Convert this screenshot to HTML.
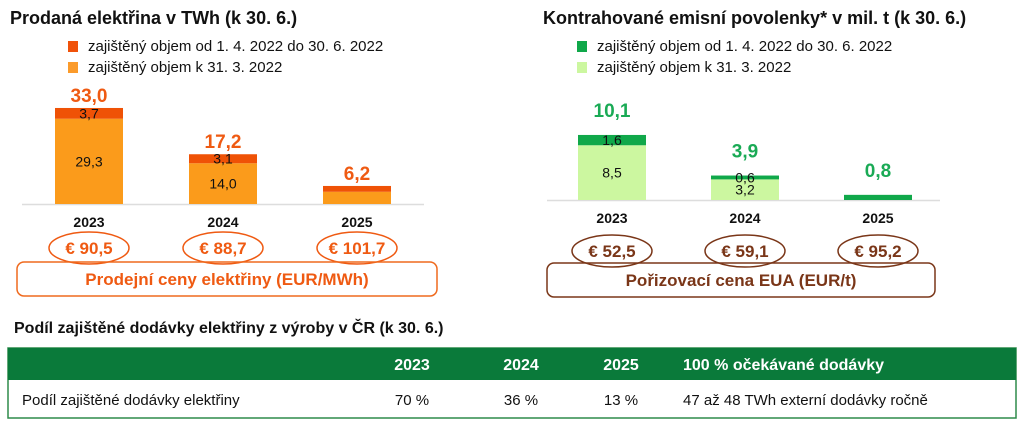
<!DOCTYPE html>
<html><head><meta charset="utf-8"><style>
body{margin:0;background:#fff;width:1024px;height:421px;overflow:hidden;font-family:"Liberation Sans",Arial,sans-serif}
svg text{font-family:"Liberation Sans",Arial,sans-serif}
</style></head><body>
<svg id="s" width="1024" height="421">
<text x="10" y="24" font-size="18" font-weight="bold" fill="#111">Prodaná elektřina v TWh (k 30. 6.)</text>
<text x="543" y="24" font-size="18" font-weight="bold" fill="#111">Kontrahované emisní povolenky* v mil. t (k 30. 6.)</text>
<rect x="68" y="41" width="10" height="11" fill="#f0520a"/>
<text x="88" y="51" font-size="15" fill="#111">zajištěný objem od 1. 4. 2022 do 30. 6. 2022</text>
<rect x="68" y="62" width="10" height="11" fill="#fb9b2b"/>
<text x="88" y="72" font-size="15" fill="#111">zajištěný objem k 31. 3. 2022</text>
<rect x="577" y="41" width="10" height="11" fill="#10a84a"/>
<text x="597" y="51" font-size="15" fill="#111">zajištěný objem od 1. 4. 2022 do 30. 6. 2022</text>
<rect x="577" y="62" width="10" height="11" fill="#ccf7a0"/>
<text x="597" y="72" font-size="15" fill="#111">zajištěný objem k 31. 3. 2022</text>
<g id="g"></g>
<rect x="17" y="262" width="420" height="34" rx="7" fill="none" stroke="#ef6a1e" stroke-width="1.5"/>
<text x="227" y="285" font-size="17" font-weight="bold" fill="#ef5a12" text-anchor="middle">Prodejní ceny elektřiny (EUR/MWh)</text>
<rect x="547" y="263" width="388" height="34" rx="7" fill="none" stroke="#7a3618" stroke-width="1.5"/>
<text x="741" y="286" font-size="17" font-weight="bold" fill="#7a3618" text-anchor="middle">Pořizovací cena EUA (EUR/t)</text>
<text x="14" y="333" font-size="16" font-weight="bold" fill="#111">Podíl zajištěné dodávky elektřiny z výroby v ČR (k 30. 6.)</text>
<rect x="8" y="348" width="1008" height="70" fill="#fff" stroke="#2e8b4a" stroke-width="1.5"/>
<rect x="8" y="348" width="1008" height="32" fill="#0a7a3a"/>
<g font-size="16" font-weight="bold" fill="#fff">
<text x="412" y="370" text-anchor="middle">2023</text><text x="521" y="370" text-anchor="middle">2024</text><text x="621" y="370" text-anchor="middle">2025</text><text x="683" y="370">100 % očekávané dodávky</text></g>
<g font-size="15" fill="#111">
<text x="22" y="405">Podíl zajištěné dodávky elektřiny</text><text x="412" y="405" text-anchor="middle">70 %</text><text x="521" y="405" text-anchor="middle">36 %</text><text x="621" y="405" text-anchor="middle">13 %</text><text x="683" y="405">47 až 48 TWh externí dodávky ročně</text></g>
</svg>
<script>
const years=["2023","2024","2025"];
const elOld=[29.3,14.0,4.2];
const elNew=[3.7,3.1,2.0];
const elTotal=["33,0","17,2","6,2"];
const elOldLbl=["29,3","14,0",""];
const elNewLbl=["3,7","3,1",""];
const elPrice=["€ 90,5","€ 88,7","€ 101,7"];
const euaOld=[8.5,3.2,0];
const euaNew=[1.6,0.6,0.8];
const euaTotal=["10,1","3,9","0,8"];
const euaOldLbl=["8,5","3,2",""];
const euaNewLbl=["1,6","0,6",""];
const euaPrice=["€ 52,5","€ 59,1","€ 95,2"];
const NS="http://www.w3.org/2000/svg",g=document.getElementById('g');
function mk(t,a,txt){const e=document.createElementNS(NS,t);for(const k in a)e.setAttribute(k,a[k]);if(txt!==undefined)e.textContent=txt;g.appendChild(e);return e;}
function chart(c){
 const y=v=>c.base-v*c.k;
 const ln=mk('line',{x1:c.lx1,x2:c.lx2,y1:c.base+0.5,y2:c.base+0.5,stroke:'#ddd','stroke-width':1.5});
 
 
 years.forEach((yr,i)=>{
  const cx=c.x0+i*c.dx, x=cx-34;
  const r1=mk('rect',{x:x,y:y(c.old[i]),width:68,height:c.base-y(c.old[i]),fill:c.cOld});
  
  
  const r2=mk('rect',{x:x,y:y(c.old[i]+c.nw[i]),width:68,height:c.nw[i]*c.k,fill:c.cNew});
  
  
  const top=y(c.old[i]+c.nw[i]);
  const t=mk('text',{x:cx,y:top-c.toff,'font-size':19,'font-weight':'bold',fill:c.cTot,'text-anchor':'middle'},c.tot[i]);
  
  
  if(c.nl[i]){const a=mk('text',{x:cx,y:y(c.old[i]+c.nw[i]/2)+5,'font-size':14,fill:'#111','text-anchor':'middle'},c.nl[i]);
   
   }
  if(c.ol[i]){const b=mk('text',{x:cx,y:y(c.old[i]/2)+5,'font-size':14,fill:'#111','text-anchor':'middle'},c.ol[i]);
   
   }
  const yl=mk('text',{x:cx,y:c.base+23,'font-size':14,'font-weight':'bold',fill:'#111','text-anchor':'middle'},yr);
  
  
  const el=mk('ellipse',{cx:cx,cy:c.ey,rx:40,ry:16,fill:'#fff',stroke:c.cPr,'stroke-width':1.5});
  
  
  const pt=mk('text',{x:cx,y:c.ey+6,'font-size':17,'font-weight':'bold',fill:c.cPr,'text-anchor':'middle'},c.pr[i]);
  
  
 });
}
chart({p:'electricity',base:204,k:2.91,x0:89,dx:134,lx1:22,lx2:424,old:elOld,nw:elNew,tot:elTotal,ol:elOldLbl,nl:elNewLbl,pr:elPrice,cOld:'#fb9b1b',cNew:'#ef5206',cTot:'#ef5a12',cPr:'#ef5a12',ey:248,toff:6});
chart({p:'eua',base:200,k:6.44,x0:612,dx:133,lx1:547,lx2:940,old:euaOld,nw:euaNew,tot:euaTotal,ol:euaOldLbl,nl:euaNewLbl,pr:euaPrice,cOld:'#ccf7a0',cNew:'#10a84a',cTot:'#1aaa55',cPr:'#7a3618',ey:251,toff:18});
</script>
</body></html>
